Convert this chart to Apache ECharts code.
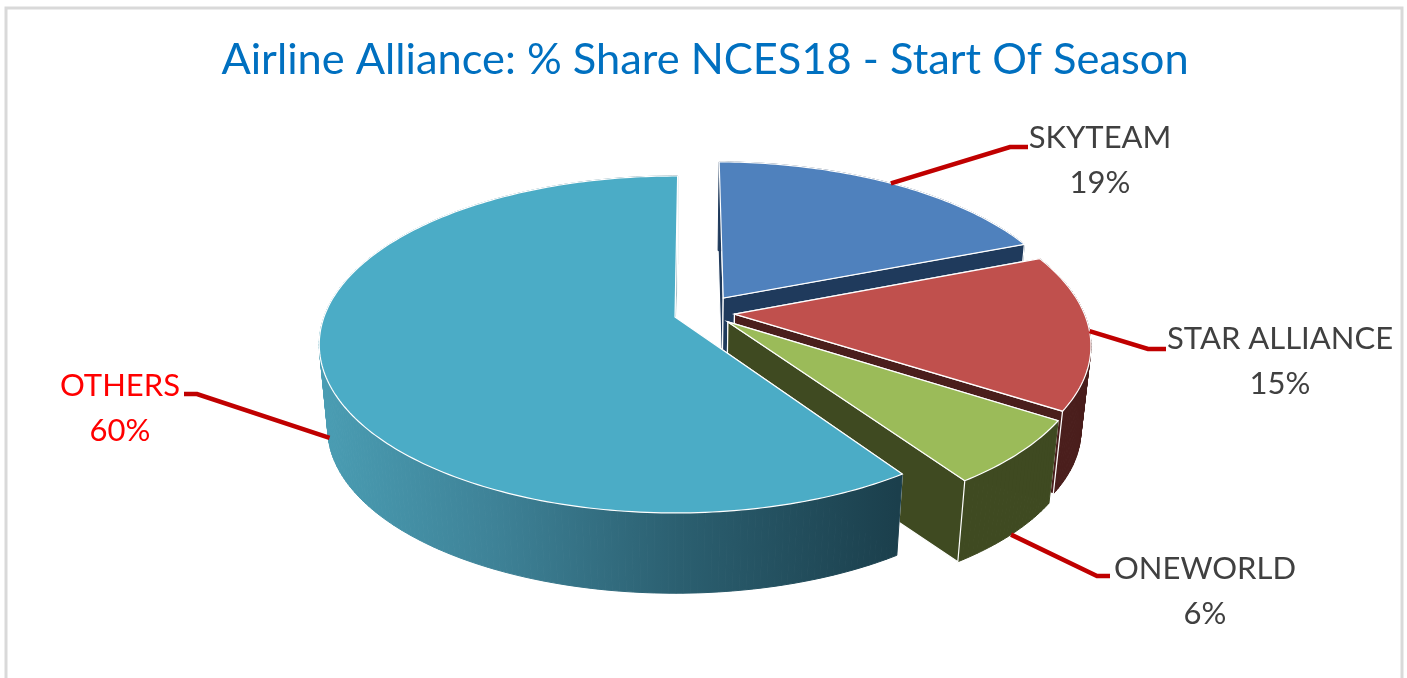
<!DOCTYPE html>
<html>
<head>
<meta charset="utf-8">
<style>html,body{margin:0;padding:0;background:#fff}#c{width:1407px;height:678px}</style>
<script src="https://cdn.jsdelivr.net/npm/echarts@6/dist/echarts.min.js"></script>
</head>
<body>
<div id="c"></div>
<script>
// ---- data ----
const categories = ['SKYTEAM', 'STAR ALLIANCE', 'ONEWORLD', 'OTHERS'];
const shares = [19, 15, 6.4, 59.6];
const titleText = 'Airline Alliance: % Share NCES18 - Start Of Season';

// ---- styles ----
const topColors = ['#4f81bd', '#c0504d', '#9bbb59', '#4bacc6'];
const wallColors = ['#1f3a5c', '#4a1e1c', '#3f4a21', null];
const labelColors = ['#404040', '#404040', '#404040', '#ff0000'];
// ---- layout of the tilted pie ----
const X0 = 675, Y0 = 317, RX = 351, RY = 164, PERSP = 0.163, DEPTH = 85, SHRINK = 0.024, START = 0.5;
const explode = [[0.14, -0.118], [0.17, -0.018], [0.15, 0.03], [0, 0]];
const leaderDepth = [0, 0, 1, 0.85];
const elbows = [[[1010, 147], [1028, 147]], [[1148, 349], [1166, 349]], [[1097, 576], [1110, 576]], [[197, 394], [184, 394]]];
const labelCentres = [[1100, 115], [1280, 316], [1205, 546], [120, 363]];

function project(u, v, h) {
  const w = 1 - PERSP * v, s = 1 - SHRINK * h;
  return [X0 + RX * u / w * s, Y0 + RY * v / w * s + DEPTH * h];
}
const total = shares.reduce((a, b) => a + b, 0);
function rim(i, deg, h) {
  const t = deg * Math.PI / 180;
  return project(Math.sin(t) + explode[i][0], -Math.cos(t) + explode[i][1], h);
}
function apex(i, h) { return project(explode[i][0], explode[i][1], h); }
function arc(i, a, b, h) {
  const pts = [], n = Math.max(2, Math.ceil(Math.abs(b - a)));
  for (let k = 0; k <= n; k++) pts.push(rim(i, a + (b - a) * k / n, h));
  return pts;
}
const othersWall = new echarts.graphic.LinearGradient(322, 0, 898, 0, [
  { offset: 0, color: '#4a9db3' }, { offset: 0.3, color: '#3e8297' },
  { offset: 0.62, color: '#2b5f70' }, { offset: 1, color: '#1b3f4c' }
], true);

function renderSlice(params, api) {
  const i = params.dataIndex;
  let before = 0;
  for (let k = 0; k < i; k++) before += api.value(0, k);
  const a = START + before / total * 360;
  const b = a + api.value(0, i) / total * 360;
  const wall = wallColors[i] || othersWall;
  const edge = { stroke: '#fff', lineWidth: 1.2 };
  const poly = (points, fill) => ({ type: 'polygon', shape: { points }, style: Object.assign({ fill }, edge) });
  const cut = deg => poly([apex(i, 0), rim(i, deg, 0), rim(i, deg, 1), apex(i, 1)], wall);
  // painter's order: the far cut face, then the outer wall, then the near cut face, then the top
  const children = [cut(a)];
  const upper = arc(i, a, b, 0), lower = arc(i, a, b, 1);
  for (let k = 0; k + 1 < upper.length; k++) {
    children.push({
      type: 'polygon',
      shape: { points: [upper[k], upper[k + 1], lower[k + 1], lower[k]] },
      style: { fill: wall, stroke: wall, lineWidth: 1 }
    });
  }
  children.push(cut(b));
  children.push(poly([apex(i, 0)].concat(upper), topColors[i]));
  const mid = (a + b) / 2;
  children.push({
    type: 'polyline',
    shape: { points: [rim(i, mid, leaderDepth[i])].concat(elbows[i]) },
    style: { stroke: '#c00000', lineWidth: 4.5, fill: null, lineJoin: 'miter' }
  });
  children.push({
    type: 'text',
    style: {
      x: labelCentres[i][0], y: labelCentres[i][1],
      text: categories[i] + '\n' + Math.round(api.value(0, i)) + '%',
      fill: labelColors[i], font: '31px Lato, Carlito, sans-serif',
      align: 'center', verticalAlign: 'top', lineHeight: 45
    }
  });
  return { type: 'group', children };
}

const chart = echarts.init(document.getElementById('c'), null, { renderer: 'canvas' });
chart.setOption({
  animation: false,
  backgroundColor: '#fff',
  title: {
    text: titleText, left: 700, top: 33, textAlign: 'center',
    textStyle: { color: '#0070c0', fontSize: 43.4, fontWeight: 'normal', fontFamily: 'Lato, sans-serif' }
  },
  graphic: [{
    type: 'polyline', silent: true,
    shape: { points: [[6, 680], [6, 8], [1402, 8], [1402, 680]] },
    style: { stroke: '#d9d9d9', lineWidth: 3, fill: null }
  }],
  series: [{
    type: 'custom',
    coordinateSystem: 'none',
    renderItem: renderSlice,
    encode: { value: 0 },
    data: shares.map((v, i) => ({ name: categories[i], value: [v] }))
  }]
});
</script>
</body>
</html>
